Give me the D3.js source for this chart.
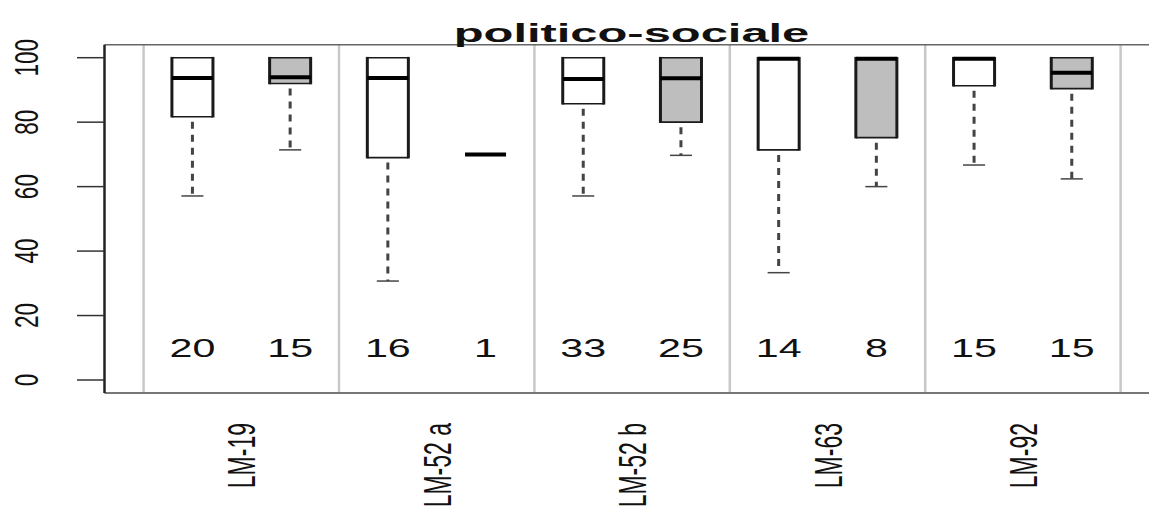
<!DOCTYPE html>
<html>
<head>
<meta charset="utf-8">
<script src="https://cdn.jsdelivr.net/npm/d3@7"></script>
<style>
  html, body { margin: 0; padding: 0; background: #fff; }
  svg { display: block; }
  text { font-family: "Liberation Sans", Arial, sans-serif; fill: #111; }
</style>
</head>
<body>
<svg id="chart" width="1149" height="507"></svg>
<script>
// ---- data ----
const groups = ["LM-19", "LM-52 a", "LM-52 b", "LM-63", "LM-92"];
const seriesFill = ["white", "gray"];           // first / second box in each group
const counts   = [20, 15, 16, 1, 33, 25, 14, 8, 15, 15];
const whiskLo  = [57.1, 71.4, 30.7, 70.0, 57.1, 69.7, 33.3, 60.0, 66.7, 62.4];
const q1       = [81.7, 92.0, 69.0, 70.0, 85.7, 80.0, 71.4, 75.2, 91.3, 90.4];
const medians  = [93.7, 93.9, 93.7, 70.0, 93.4, 93.6, 100, 100, 100, 95.3];
const q3       = [100, 100, 100, 70.0, 100, 100, 100, 100, 100, 100];
const whiskHi  = [100, 100, 100, 70.0, 100, 100, 100, 100, 100, 100];
const yTicks   = [0, 20, 40, 60, 80, 100];
const title    = "politico-sociale";
const countLabelY = 10;

// ---- layout ----
const svg = d3.select("#chart");
const x = d3.scaleLinear().domain([0.1, 10.9]).range([104.5, 1159.7]);
const y = d3.scaleLinear().domain([0, 100]).range([380, 57.7]);
const plotTop = y(104), plotBottom = y(-4);
const boxHalf = 0.21, capHalf = 0.113;

const boxes = counts.map((n, i) => ({
  pos: i + 1, n, lo: whiskLo[i], q1: q1[i], med: medians[i], q3: q3[i], hi: whiskHi[i],
  fill: seriesFill[i % 2] === "gray" ? "#bebebe" : "#ffffff"
}));

// separators
const seps = d3.range(0, groups.length + 1).map(k => 0.5 + 2 * k);
svg.selectAll("line.sep").data(seps).join("line")
  .attr("class", "sep")
  .attr("x1", d => x(d)).attr("x2", d => x(d))
  .attr("y1", plotTop).attr("y2", plotBottom)
  .attr("stroke", "#c8c8c8").attr("stroke-width", 2.5);

// plot frame
svg.append("line").attr("x1", x(0.1)).attr("x2", 1149).attr("y1", plotTop).attr("y2", plotTop)
  .attr("stroke", "#666").attr("stroke-width", 1.5);
svg.append("line").attr("x1", x(0.1)).attr("x2", 1149).attr("y1", plotBottom).attr("y2", plotBottom)
  .attr("stroke", "#777").attr("stroke-width", 2);
svg.append("line").attr("x1", x(0.1)).attr("x2", x(0.1)).attr("y1", plotTop).attr("y2", plotBottom)
  .attr("stroke", "#222").attr("stroke-width", 2.5);

// y axis ticks & labels
svg.selectAll("line.ytick").data(yTicks).join("line")
  .attr("class", "ytick")
  .attr("x1", 77).attr("x2", x(0.1))
  .attr("y1", d => y(d)).attr("y2", d => y(d))
  .attr("stroke", "#333").attr("stroke-width", 1.5);
svg.selectAll("text.ylab").data(yTicks).join("text")
  .attr("class", "ylab")
  .attr("transform", d => `translate(26,${y(d)}) scale(1.45,1) rotate(-90)`)
  .attr("text-anchor", "middle").attr("dy", "0.36em")
  .attr("font-size", 22.5)
  .text(d => d);

// whiskers (dashed)
const g = svg.append("g");
boxes.filter(b => b.lo < b.q1).forEach(b => {
  g.append("line").attr("x1", x(b.pos)).attr("x2", x(b.pos))
    .attr("y1", y(b.q1) + 5).attr("y2", y(b.lo))
    .attr("stroke", "#444").attr("stroke-width", 3).attr("stroke-dasharray", "7,6");
  g.append("line").attr("x1", x(b.pos - capHalf)).attr("x2", x(b.pos + capHalf))
    .attr("y1", y(b.lo)).attr("y2", y(b.lo))
    .attr("stroke", "#444").attr("stroke-width", 1.5);
});
boxes.filter(b => b.hi > b.q3).forEach(b => {
  g.append("line").attr("x1", x(b.pos)).attr("x2", x(b.pos))
    .attr("y1", y(b.q3) - 5).attr("y2", y(b.hi))
    .attr("stroke", "#444").attr("stroke-width", 3).attr("stroke-dasharray", "7,6");
});

// boxes
boxes.filter(b => b.q3 > b.q1).forEach(b => {
  const x0 = x(b.pos - boxHalf), x1 = x(b.pos + boxHalf);
  g.append("rect").attr("x", x0).attr("y", y(b.q3))
    .attr("width", x1 - x0).attr("height", y(b.q1) - y(b.q3))
    .attr("fill", b.fill).attr("stroke", "none");
  [[x0, x0], [x1, x1]].forEach(([a, c]) =>
    g.append("line").attr("x1", a).attr("x2", c).attr("y1", y(b.q3) - 0.8).attr("y2", y(b.q1) + 0.8)
      .attr("stroke", "#1a1a1a").attr("stroke-width", 3));
  [b.q3, b.q1].forEach(v =>
    g.append("line").attr("x1", x0).attr("x2", x1).attr("y1", y(v)).attr("y2", y(v))
      .attr("stroke", "#1a1a1a").attr("stroke-width", 1.6));
});
// medians
boxes.forEach(b => {
  g.append("line").attr("x1", x(b.pos - boxHalf)).attr("x2", x(b.pos + boxHalf))
    .attr("y1", y(b.med) + (b.med >= 100 ? 1 : 0)).attr("y2", y(b.med) + (b.med >= 100 ? 1 : 0))
    .attr("stroke", "#000").attr("stroke-width", 4);
});

// counts
svg.selectAll("text.count").data(boxes).join("text")
  .attr("class", "count")
  .attr("transform", d => `translate(${x(d.pos)},${y(countLabelY)}) scale(1.65,1)`)
  .attr("text-anchor", "middle").attr("dy", "0.36em")
  .attr("font-size", 25)
  .text(d => d.n);

// group labels
svg.selectAll("text.glab").data(groups).join("text")
  .attr("class", "glab")
  .attr("transform", (d, i) => `translate(${x(1.5 + 2 * i)},423) scale(1.7,1) rotate(-90)`)
  .attr("text-anchor", "end").attr("dy", "0.36em")
  .attr("font-size", 23)
  .text(d => d);

// title
svg.append("text")
  .attr("transform", `translate(631.5,41.7) scale(1.88,1)`)
  .attr("text-anchor", "middle")
  .attr("font-size", 26).attr("font-weight", "bold")
  .text(title);
</script>
</body>
</html>
